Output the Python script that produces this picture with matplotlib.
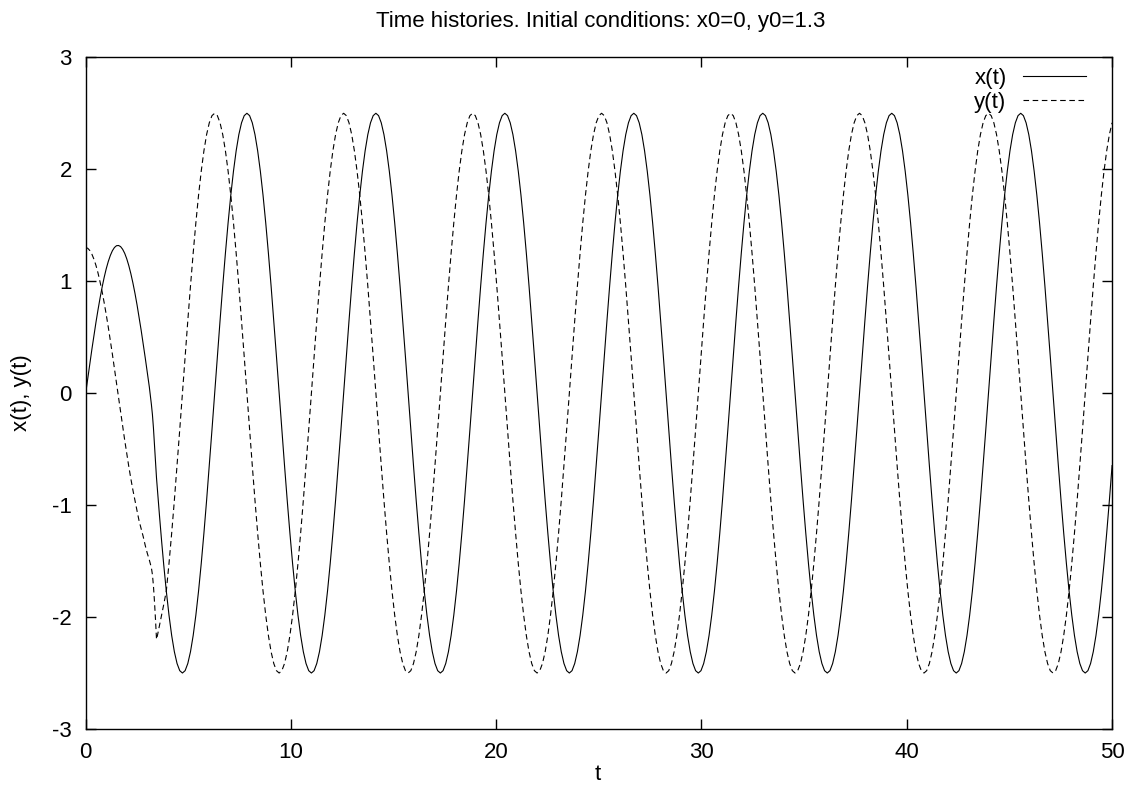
import numpy as np
import matplotlib
matplotlib.use('Agg')
import matplotlib.pyplot as plt

# ---------------- data ----------------
# transient part (t <= 3.8)
t_early = [0.0, 0.1, 0.2, 0.3, 0.4, 0.5, 0.6, 0.7, 0.8, 0.9,
           1.0, 1.1, 1.2, 1.3, 1.4, 1.5, 1.6, 1.7, 1.8, 1.9,
           2.0, 2.1, 2.2, 2.3, 2.4, 2.5, 2.6, 2.7, 2.8, 2.9,
           3.0, 3.1, 3.2, 3.25, 3.3, 3.35, 3.4, 3.45, 3.5, 3.6, 3.7, 3.8]
x_early = [0.0, 0.132, 0.262, 0.39, 0.514, 0.633, 0.745, 0.85, 0.947, 1.034,
           1.111, 1.176, 1.23, 1.272, 1.301, 1.317, 1.319, 1.309, 1.285, 1.249,
           1.2, 1.139, 1.067, 0.984, 0.892, 0.79, 0.68, 0.564, 0.442, 0.316,
           0.186, 0.055, -0.1, -0.19, -0.31, -0.46, -0.62, -0.759, -0.877, -1.106, -1.325, -1.53]
y_early = [1.3, 1.294, 1.274, 1.242, 1.197, 1.141, 1.073, 0.994, 0.906, 0.808,
           0.702, 0.59, 0.471, 0.348, 0.221, 0.092, -0.038, -0.167, -0.295, -0.42,
           -0.541, -0.656, -0.765, -0.866, -0.96, -1.05, -1.14, -1.21, -1.28, -1.36,
           -1.43, -1.49, -1.56, -1.62, -1.72, -1.86, -2.02, -2.2, -2.16, -2.07, -1.98, -1.89]

# steady oscillation, sampled every pi/24 from t = 3.927 to t = 50
t_late = np.arange(30, 383) * np.pi / 24

x_late = [
    -1.768, -1.983, -2.165, -2.31, -2.415, -2.479, -2.5, -2.479, -2.415, -2.31, -2.165, -1.983,
    -1.768, -1.522, -1.25, -0.957, -0.647, -0.326,
    # period 1
    0, 0.326, 0.647, 0.957, 1.25, 1.522, 1.768, 1.983, 2.165, 2.31, 2.415, 2.479,
    2.5, 2.479, 2.415, 2.31, 2.165, 1.983, 1.768, 1.522, 1.25, 0.957, 0.647, 0.326,
    0, -0.326, -0.647, -0.957, -1.25, -1.522, -1.768, -1.983, -2.165, -2.31, -2.415, -2.479,
    -2.5, -2.479, -2.415, -2.31, -2.165, -1.983, -1.768, -1.522, -1.25, -0.957, -0.647, -0.326,
    # period 2
    0, 0.326, 0.647, 0.957, 1.25, 1.522, 1.768, 1.983, 2.165, 2.31, 2.415, 2.479,
    2.5, 2.479, 2.415, 2.31, 2.165, 1.983, 1.768, 1.522, 1.25, 0.957, 0.647, 0.326,
    0, -0.326, -0.647, -0.957, -1.25, -1.522, -1.768, -1.983, -2.165, -2.31, -2.415, -2.479,
    -2.5, -2.479, -2.415, -2.31, -2.165, -1.983, -1.768, -1.522, -1.25, -0.957, -0.647, -0.326,
    # period 3
    0, 0.326, 0.647, 0.957, 1.25, 1.522, 1.768, 1.983, 2.165, 2.31, 2.415, 2.479,
    2.5, 2.479, 2.415, 2.31, 2.165, 1.983, 1.768, 1.522, 1.25, 0.957, 0.647, 0.326,
    0, -0.326, -0.647, -0.957, -1.25, -1.522, -1.768, -1.983, -2.165, -2.31, -2.415, -2.479,
    -2.5, -2.479, -2.415, -2.31, -2.165, -1.983, -1.768, -1.522, -1.25, -0.957, -0.647, -0.326,
    # period 4
    0, 0.326, 0.647, 0.957, 1.25, 1.522, 1.768, 1.983, 2.165, 2.31, 2.415, 2.479,
    2.5, 2.479, 2.415, 2.31, 2.165, 1.983, 1.768, 1.522, 1.25, 0.957, 0.647, 0.326,
    0, -0.326, -0.647, -0.957, -1.25, -1.522, -1.768, -1.983, -2.165, -2.31, -2.415, -2.479,
    -2.5, -2.479, -2.415, -2.31, -2.165, -1.983, -1.768, -1.522, -1.25, -0.957, -0.647, -0.326,
    # period 5
    0, 0.326, 0.647, 0.957, 1.25, 1.522, 1.768, 1.983, 2.165, 2.31, 2.415, 2.479,
    2.5, 2.479, 2.415, 2.31, 2.165, 1.983, 1.768, 1.522, 1.25, 0.957, 0.647, 0.326,
    0, -0.326, -0.647, -0.957, -1.25, -1.522, -1.768, -1.983, -2.165, -2.31, -2.415, -2.479,
    -2.5, -2.479, -2.415, -2.31, -2.165, -1.983, -1.768, -1.522, -1.25, -0.957, -0.647, -0.326,
    # period 6
    0, 0.326, 0.647, 0.957, 1.25, 1.522, 1.768, 1.983, 2.165, 2.31, 2.415, 2.479,
    2.5, 2.479, 2.415, 2.31, 2.165, 1.983, 1.768, 1.522, 1.25, 0.957, 0.647, 0.326,
    0, -0.326, -0.647, -0.957, -1.25, -1.522, -1.768, -1.983, -2.165, -2.31, -2.415, -2.479,
    -2.5, -2.479, -2.415, -2.31, -2.165, -1.983, -1.768, -1.522, -1.25, -0.957, -0.647, -0.326,
    # last (partial) period
    0, 0.326, 0.647, 0.957, 1.25, 1.522, 1.768, 1.983, 2.165, 2.31, 2.415, 2.479,
    2.5, 2.479, 2.415, 2.31, 2.165, 1.983, 1.768, 1.522, 1.25, 0.957, 0.647, 0.326,
    0, -0.326, -0.647, -0.957, -1.25, -1.522, -1.768, -1.983, -2.165, -2.31, -2.415, -2.479,
    -2.5, -2.479, -2.415, -2.31, -2.165, -1.983, -1.768, -1.522, -1.25, -0.957, -0.647,
]

y_late = [
    -1.768, -1.522, -1.25, -0.957, -0.647, -0.326, 0, 0.326, 0.647, 0.957, 1.25, 1.522,
    1.768, 1.983, 2.165, 2.31, 2.415, 2.479,
    # period 1
    2.5, 2.479, 2.415, 2.31, 2.165, 1.983, 1.768, 1.522, 1.25, 0.957, 0.647, 0.326,
    0, -0.326, -0.647, -0.957, -1.25, -1.522, -1.768, -1.983, -2.165, -2.31, -2.415, -2.479,
    -2.5, -2.479, -2.415, -2.31, -2.165, -1.983, -1.768, -1.522, -1.25, -0.957, -0.647, -0.326,
    0, 0.326, 0.647, 0.957, 1.25, 1.522, 1.768, 1.983, 2.165, 2.31, 2.415, 2.479,
    # period 2
    2.5, 2.479, 2.415, 2.31, 2.165, 1.983, 1.768, 1.522, 1.25, 0.957, 0.647, 0.326,
    0, -0.326, -0.647, -0.957, -1.25, -1.522, -1.768, -1.983, -2.165, -2.31, -2.415, -2.479,
    -2.5, -2.479, -2.415, -2.31, -2.165, -1.983, -1.768, -1.522, -1.25, -0.957, -0.647, -0.326,
    0, 0.326, 0.647, 0.957, 1.25, 1.522, 1.768, 1.983, 2.165, 2.31, 2.415, 2.479,
    # period 3
    2.5, 2.479, 2.415, 2.31, 2.165, 1.983, 1.768, 1.522, 1.25, 0.957, 0.647, 0.326,
    0, -0.326, -0.647, -0.957, -1.25, -1.522, -1.768, -1.983, -2.165, -2.31, -2.415, -2.479,
    -2.5, -2.479, -2.415, -2.31, -2.165, -1.983, -1.768, -1.522, -1.25, -0.957, -0.647, -0.326,
    0, 0.326, 0.647, 0.957, 1.25, 1.522, 1.768, 1.983, 2.165, 2.31, 2.415, 2.479,
    # period 4
    2.5, 2.479, 2.415, 2.31, 2.165, 1.983, 1.768, 1.522, 1.25, 0.957, 0.647, 0.326,
    0, -0.326, -0.647, -0.957, -1.25, -1.522, -1.768, -1.983, -2.165, -2.31, -2.415, -2.479,
    -2.5, -2.479, -2.415, -2.31, -2.165, -1.983, -1.768, -1.522, -1.25, -0.957, -0.647, -0.326,
    0, 0.326, 0.647, 0.957, 1.25, 1.522, 1.768, 1.983, 2.165, 2.31, 2.415, 2.479,
    # period 5
    2.5, 2.479, 2.415, 2.31, 2.165, 1.983, 1.768, 1.522, 1.25, 0.957, 0.647, 0.326,
    0, -0.326, -0.647, -0.957, -1.25, -1.522, -1.768, -1.983, -2.165, -2.31, -2.415, -2.479,
    -2.5, -2.479, -2.415, -2.31, -2.165, -1.983, -1.768, -1.522, -1.25, -0.957, -0.647, -0.326,
    0, 0.326, 0.647, 0.957, 1.25, 1.522, 1.768, 1.983, 2.165, 2.31, 2.415, 2.479,
    # period 6
    2.5, 2.479, 2.415, 2.31, 2.165, 1.983, 1.768, 1.522, 1.25, 0.957, 0.647, 0.326,
    0, -0.326, -0.647, -0.957, -1.25, -1.522, -1.768, -1.983, -2.165, -2.31, -2.415, -2.479,
    -2.5, -2.479, -2.415, -2.31, -2.165, -1.983, -1.768, -1.522, -1.25, -0.957, -0.647, -0.326,
    0, 0.326, 0.647, 0.957, 1.25, 1.522, 1.768, 1.983, 2.165, 2.31, 2.415, 2.479,
    # last (partial) period
    2.5, 2.479, 2.415, 2.31, 2.165, 1.983, 1.768, 1.522, 1.25, 0.957, 0.647, 0.326,
    0, -0.326, -0.647, -0.957, -1.25, -1.522, -1.768, -1.983, -2.165, -2.31, -2.415, -2.479,
    -2.5, -2.479, -2.415, -2.31, -2.165, -1.983, -1.768, -1.522, -1.25, -0.957, -0.647, -0.326,
    0, 0.326, 0.647, 0.957, 1.25, 1.522, 1.768, 1.983, 2.165, 2.31, 2.415,
]

x_ticks = [0, 10, 20, 30, 40, 50]
y_ticks = [-3, -2, -1, 0, 1, 2, 3]
series_labels = ['x(t)', 'y(t)']
title_text = 'Time histories. Initial conditions: x0=0, y0=1.3'
xlabel_text = 't'
ylabel_text = 'x(t), y(t)'

# ---------------- drawing ----------------
plt.rcParams['font.family'] = ['Liberation Sans', 'DejaVu Sans']
plt.rcParams['axes.unicode_minus'] = False
plt.rcParams['lines.scale_dashes'] = False

FS = 16

n = min(len(t_late), len(x_late), len(y_late))
t = np.concatenate([np.array(t_early), t_late[:n]])
x = np.concatenate([np.array(x_early), np.array(x_late[:n])])
y = np.concatenate([np.array(y_early), np.array(y_late[:n])])

W, H = 1131, 796
fig = plt.figure(figsize=(W / 100, H / 100), dpi=100)
L, R, T, B = 85.7, 1112.0, 57.3, 729.0
ax = fig.add_axes([L / W, 1 - B / H, (R - L) / W, (B - T) / H])

ax.plot(t, x, color='black', lw=0.8, label=series_labels[0])
ax.plot(t, y, color='black', lw=0.8, dashes=(4.0, 2.6), label=series_labels[1])

ax.set_xlim(0, 50)
ax.set_ylim(-3, 3)
ax.set_xticks(x_ticks)
ax.set_yticks(y_ticks)
ax.set_xticklabels([str(v) for v in x_ticks])
ax.set_yticklabels([str(v) for v in y_ticks])
ax.tick_params(axis='both', direction='in', top=True, right=True,
               length=7, width=1.0, labelsize=FS, colors='black')
ax.tick_params(axis='y', pad=10)
ax.tick_params(axis='x', pad=9.5)
for s in ax.spines.values():
    s.set_linewidth(1.0)
    s.set_color('black')

fig.text(601 / W, 1 - 22 / H, title_text, ha='center', va='center', fontsize=FS)
fig.text(598 / W, 1 - 774 / H, xlabel_text, ha='center', va='center', fontsize=FS)
fig.text(21 / W, 1 - 393 / H, ylabel_text, ha='center', va='center', rotation=90, fontsize=FS)

leg = ax.legend(loc='upper right', bbox_to_anchor=(1086 / W, 1 - 68 / H),
                bbox_transform=fig.transFigure, frameon=False, markerfirst=False,
                handlelength=2.85, handletextpad=0.72, borderpad=0, borderaxespad=0,
                labelspacing=0.12, fontsize=FS)

fig.savefig('out.png', dpi=100)
